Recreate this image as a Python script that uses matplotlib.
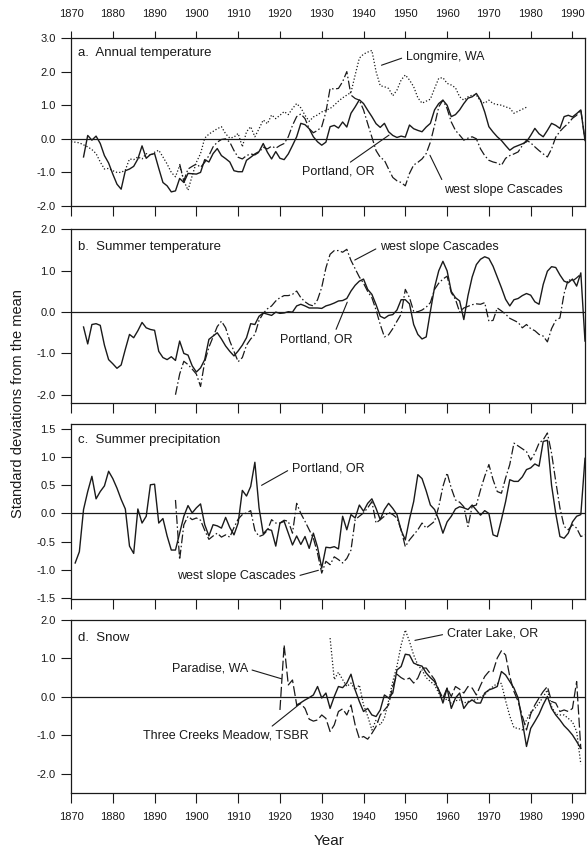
import numpy as np
import matplotlib
matplotlib.use("Agg")
import matplotlib.pyplot as plt

plt.rcParams['font.family'] = ['Liberation Sans', 'DejaVu Sans']
plt.rcParams['axes.unicode_minus'] = False

# ---------------- data (standard deviations from the mean) ----------------
# a. Annual temperature
a_portland_start = 1873
a_portland = [-0.54, 0.10, -0.04, 0.08, -0.14, -0.50, -0.72, -1.05, -1.35, -1.50,
              -0.95, -0.90, -0.82, -0.60, -0.21, -0.58, -0.47, -0.44, -0.88, -1.30,
              -1.40, -1.58, -1.55, -1.18, -1.30, -1.03, -1.04, -1.05, -1.00, -0.62,
              -0.69, -0.44, -0.29, -0.50, -0.59, -0.69, -0.95, -0.98, -0.98, -0.64,
              -0.55, -0.45, -0.38, -0.14, -0.40, -0.60, -0.38, -0.58, -0.62, -0.45,
              -0.20, 0.06, 0.46, 0.42, 0.30, 0.06, -0.09, -0.19, -0.10, 0.36,
              0.40, 0.32, 0.50, 0.35, 0.76, 0.95, 1.16, 1.05, 0.85, 0.66,
              0.45, 0.34, 0.46, 0.21, 0.10, 0.04, 0.08, 0.05, 0.41, 0.30,
              0.25, 0.21, 0.35, 0.46, 0.86, 1.05, 1.15, 1.00, 0.66, 0.72,
              0.86, 1.05, 1.21, 1.25, 1.35, 1.15, 0.80, 0.36, 0.20, 0.06,
              -0.05, -0.20, -0.34, -0.25, -0.20, -0.15, -0.09, 0.10, 0.31, 0.15,
              0.06, 0.25, 0.46, 0.40, 0.31, 0.66, 0.70, 0.65, 0.75, 0.86, -0.05]
a_longmire_start = 1870
a_longmire = [-0.09, -0.10, -0.12, -0.18, -0.24, -0.32, -0.44, -0.69, -0.90, -0.88,
              -0.95, -1.00, -1.00, -0.93, -0.60, -0.62, -0.54, -0.60, -0.44, -0.50,
              -0.40, -0.34, -0.54, -0.75, -1.00, -1.13, -0.80, -1.25, -1.53, -1.10,
              -0.70, -0.44, 0.02, 0.14, 0.22, 0.30, 0.36, 0.15, 0.02, 0.05,
              0.16, -0.24, 0.21, 0.36, 0.06, 0.30, 0.56, 0.45, 0.71, 0.60,
              0.70, 0.81, 0.72, 0.90, 1.05, 0.92, 0.70, 0.52, 0.65, 0.71,
              0.80, 0.85, 0.90, 1.00, 1.12, 1.22, 1.30, 1.38, 1.90, 2.40,
              2.52, 2.58, 2.63, 2.00, 1.58, 1.55, 1.50, 1.28, 1.45, 1.75,
              1.90, 1.75, 1.55, 1.22, 1.06, 1.12, 1.18, 1.50, 1.80, 1.82,
              1.65, 1.60, 1.52, 1.25, 1.15, 1.25, 1.30, 1.30, 1.12, 1.06,
              1.15, 1.05, 1.02, 1.00, 0.95, 0.91, 0.76, 0.82, 0.88, 0.94]
a_cascades_start = 1896
a_cascades = [-0.75, -1.25, -0.90, -0.82, -0.75, -0.85, -0.70, -0.50, -0.24, -0.10,
              -0.02, 0.00, -0.10, -0.35, -0.55, -0.60, -0.50, -0.45, -0.48, -0.40,
              -0.25, -0.30, -0.22, -0.28, -0.20, -0.14, 0.06, 0.40, 0.66, 0.74,
              0.60, 0.30, 0.18, 0.25, 0.36, 0.80, 1.50, 1.48, 1.50, 1.70,
              2.00, 1.30, 1.20, 1.15, 0.86, 0.45, 0.05, -0.35, -0.55, -0.64,
              -0.90, -1.15, -1.25, -1.30, -1.40, -1.03, -0.78, -0.70, -0.60, -0.44,
              -0.10, 0.40, 0.95, 1.15, 0.90, 0.50, 0.25, 0.11, -0.04, 0.02,
              0.06, 0.00, -0.30, -0.50, -0.64, -0.69, -0.72, -0.79, -0.58, -0.50,
              -0.45, -0.39, -0.20, -0.04, -0.12, -0.24, -0.35, -0.45, -0.54, -0.30,
              0.05, 0.22, 0.35, 0.46, 0.61, 0.70, 0.86, -0.04]

# b. Summer temperature
b_portland_start = 1873
b_portland = [-0.36, -0.77, -0.30, -0.28, -0.32, -0.80, -1.15, -1.25, -1.36, -1.28,
              -0.90, -0.54, -0.62, -0.45, -0.25, -0.38, -0.42, -0.44, -0.95, -1.10,
              -1.15, -1.08, -1.17, -0.70, -1.00, -1.04, -1.30, -1.45, -1.35, -1.15,
              -0.66, -0.58, -0.50, -0.65, -0.82, -0.95, -1.06, -0.94, -0.80, -0.62,
              -0.28, -0.30, -0.10, -0.02, -0.05, -0.08, 0.00, -0.03, -0.02, 0.01,
              0.00, 0.15, 0.19, 0.15, 0.10, 0.10, 0.10, 0.09, 0.15, 0.18,
              0.22, 0.27, 0.28, 0.33, 0.51, 0.65, 0.75, 0.80, 0.55, 0.43,
              0.18, -0.10, -0.15, -0.08, -0.06, 0.05, 0.30, 0.30, 0.20, -0.30,
              -0.54, -0.65, -0.60, 0.02, 0.60, 1.00, 1.23, 1.00, 0.50, 0.35,
              0.27, -0.18, 0.40, 0.85, 1.15, 1.28, 1.34, 1.30, 1.11, 0.85,
              0.59, 0.31, 0.15, 0.30, 0.33, 0.40, 0.45, 0.41, 0.25, 0.19,
              0.67, 0.99, 1.10, 1.08, 0.90, 0.75, 0.71, 0.80, 0.63, 0.95, -0.70]
b_cascades_start = 1895
b_cascades = [-2.00, -1.50, -1.19, -1.27, -1.38, -1.50, -1.80, -1.20, -0.85, -0.60,
              -0.35, -0.22, -0.38, -0.70, -0.95, -1.20, -1.10, -0.80, -0.65, -0.54,
              -0.20, -0.03, 0.08, 0.15, 0.27, 0.35, 0.40, 0.40, 0.43, 0.51,
              0.35, 0.25, 0.18, 0.15, 0.30, 0.60, 1.07, 1.40, 1.49, 1.49,
              1.45, 1.52, 1.25, 1.05, 0.85, 0.70, 0.50, 0.35, 0.05, -0.30,
              -0.60, -0.55, -0.40, -0.22, -0.05, 0.55, 0.35, 0.02, 0.01, 0.05,
              0.12, 0.23, 0.55, 0.70, 0.80, 0.87, 0.47, 0.31, 0.00, 0.10,
              0.14, 0.18, 0.20, 0.19, 0.23, -0.22, -0.20, 0.10, 0.03, -0.05,
              -0.15, -0.20, -0.25, -0.38, -0.30, -0.40, -0.45, -0.54, -0.58, -0.72,
              -0.40, -0.20, -0.14, 0.45, 0.79, 0.75, 0.83, 0.92]

# c. Summer precipitation
c_portland_start = 1871
c_portland = [-0.88, -0.68, 0.07, 0.39, 0.66, 0.26, 0.39, 0.49, 0.75, 0.62,
              0.45, 0.25, 0.08, -0.58, -0.71, 0.08, -0.17, -0.05, 0.51, 0.52,
              -0.17, -0.09, -0.40, -0.65, -0.65, -0.35, -0.05, 0.14, 0.01, 0.10,
              0.17, -0.20, -0.40, -0.20, -0.22, -0.26, -0.07, -0.25, -0.38, -0.17,
              0.41, 0.31, 0.48, 0.91, 0.10, -0.36, -0.28, -0.30, -0.58, -0.17,
              -0.14, -0.35, -0.56, -0.40, -0.55, -0.41, -0.62, -0.35, -0.60, -0.97,
              -0.60, -0.61, -0.59, -0.63, -0.05, -0.29, -0.02, -0.08, 0.15, 0.04,
              0.18, 0.26, 0.09, -0.11, 0.07, 0.18, 0.09, -0.02, -0.30, -0.47,
              -0.10, 0.21, 0.69, 0.62, 0.40, 0.15, 0.07, -0.11, -0.35, -0.15,
              -0.05, 0.08, 0.12, 0.10, 0.07, 0.15, 0.06, -0.03, 0.05, 0.00,
              -0.38, -0.41, -0.11, 0.21, 0.60, 0.57, 0.57, 0.65, 0.78, 0.81,
              0.88, 0.84, 1.28, 1.30, 0.50, 0.00, -0.41, -0.44, -0.35, -0.15,
              -0.05, -0.02, 0.98]
c_cascades_start = 1895
c_cascades = [0.24, -0.82, -0.20, -0.05, -0.11, -0.08, -0.12, -0.30, -0.46, -0.40,
              -0.35, -0.42, -0.38, -0.42, -0.25, -0.10, -0.02, 0.01, 0.05, -0.30,
              -0.41, -0.38, -0.30, -0.11, -0.17, -0.17, -0.12, -0.14, -0.35, 0.18,
              0.00, -0.14, -0.29, -0.44, -0.71, -1.06, -0.85, -0.91, -0.77, -0.82,
              -0.88, -0.80, -0.65, -0.11, -0.05, 0.01, 0.10, 0.21, -0.17, -0.11,
              -0.05, 0.02, -0.02, -0.08, -0.29, -0.59, -0.47, -0.38, -0.29, -0.17,
              -0.26, -0.20, -0.14, 0.12, 0.48, 0.72, 0.45, 0.24, 0.20, 0.12,
              -0.23, 0.13, 0.15, 0.42, 0.66, 0.87, 0.60, 0.39, 0.36, 0.63,
              0.87, 1.25, 1.20, 1.15, 1.10, 0.95, 1.07, 1.25, 1.31, 1.43,
              1.07, 0.57, 0.10, -0.23, -0.29, -0.20, -0.26, -0.41, -0.38]

# d. Snow
d_paradise_start = 1920
d_paradise = [-0.34, 1.35, 0.31, 0.44, -0.20, -0.18, -0.30, -0.58, -0.63, -0.60,
              -0.47, -0.56, -0.90, -0.73, -0.38, -0.31, -0.47, -0.21, -0.73, -1.08,
              -1.03, -1.10, -0.95, -0.77, -0.47, -0.34, -0.21, 0.27, 0.59, 0.50,
              0.44, 0.49, 0.36, 0.49, 0.75, 0.75, 0.60, 0.45, 0.18, -0.03,
              0.23, 0.01, 0.27, 0.20, 0.10, 0.27, 0.23, 0.05, 0.30, 0.53,
              0.66, 0.66, 1.01, 1.20, 1.09, 0.53, 0.14, -0.12, -0.50, -0.86,
              -0.45, -0.21, -0.03, 0.14, 0.27, -0.12, -0.16, -0.38, -0.34, -0.38,
              -0.30, 0.40, -1.35]
d_threecreeks_start = 1924
d_threecreeks = [-0.22, -0.15, -0.08, -0.02, 0.05, 0.27, -0.03, 0.10, -0.30, 0.01,
                 0.27, 0.24, 0.36, 0.59, 0.18, -0.12, -0.38, -0.30, -0.47, -0.51,
                 -0.34, 0.05, -0.03, 0.10, 0.70, 0.79, 1.11, 1.09, 0.88, 0.83,
                 0.80, 0.62, 0.50, 0.40, 0.18, -0.16, 0.23, -0.30, -0.03, 0.10,
                 -0.30, -0.15, -0.08, -0.16, -0.16, 0.10, 0.18, 0.22, 0.27, 0.66,
                 0.57, 0.40, 0.23, -0.03, -0.64, -1.29, -0.82, -0.64, -0.45, -0.20,
                 0.01, -0.30, -0.47, -0.60, -0.75, -0.86, -0.99, -1.16, -1.34]
d_craterlake_start = 1932
d_craterlake = [1.53, 0.45, 0.64, 0.45, 0.27, 0.36, 0.18, 0.31, -0.21, -0.50,
                -0.86, -0.60, -0.73, -0.55, -0.10, 0.40, 0.80, 1.35, 1.74, 1.44,
                1.09, 0.83, 0.70, 0.50, 0.40, 0.31, 0.10, -0.12, -0.05, -0.16,
                -0.10, -0.08, -0.16, -0.12, -0.08, -0.08, 0.00, 0.05, 0.18, 0.27,
                0.35, 0.35, -0.10, -0.50, -0.80, -0.82, -0.86, -0.60, -0.40, -0.30,
                -0.16, 0.00, 0.18, -0.25, -0.45, -0.47, -0.47, -0.56, -0.65, -0.90,
                -1.75]

decade_ticks = list(range(1870, 2000, 10))
panel_titles = ["a.  Annual temperature", "b.  Summer temperature",
                "c.  Summer precipitation", "d.  Snow"]
yticks_a = [-2, -1, 0, 1, 2, 3]
yticks_b = [-2, -1, 0, 1, 2]
yticks_c = [-1.5, -1.0, -0.5, 0.0, 0.5, 1.0, 1.5]
yticks_d = [-2, -1, 0, 1, 2]


def yrs(start, vals):
    return np.arange(start, start + len(vals))


# ---------------- styles ----------------
INK = '#1a1a1a'
SOLID = dict(color=INK, lw=1.0, ls='-')
DOT = dict(color=INK, lw=0.9, ls=(0, (1, 1.6)))
DASHDOT = dict(color=INK, lw=0.9, ls=(0, (7, 2, 1.2, 2)))

fig = plt.figure(figsize=(5.87, 8.57), dpi=100)
W = 587.0
H = 857.0
left_px, right_px = 71, 585
boxes = [(38, 206), (229.5, 403), (424, 599), (620, 793)]
ylims = [(-2.0, 3.0), (-2.2, 2.0), (-1.52, 1.59), (-2.5, 2.0)]
yticks = [yticks_a, yticks_b, yticks_c, yticks_d]
title_y = [0.909, 0.90, 0.909, 0.898]

axes = []
for i, (top, bot) in enumerate(boxes):
    ax = fig.add_axes([left_px / W, 1 - bot / H, (right_px - left_px) / W, (bot - top) / H])
    ax.set_xlim(1870, 1993)
    ax.set_ylim(*ylims[i])
    ax.set_xticks(decade_ticks)
    ax.set_yticks(yticks[i])
    ax.set_yticklabels(['%.1f' % v for v in yticks[i]])
    ax.axhline(0, color=INK, lw=0.9, zorder=1)
    for sp in ax.spines.values():
        sp.set_linewidth(0.9)
        sp.set_color(INK)
    ax.tick_params(axis='y', direction='out', length=7, width=0.8, pad=4,
                   labelsize=8, colors=INK)
    ax.tick_params(axis='x', direction='out', length=7, width=0.8, pad=7,
                   labelsize=8, colors=INK, bottom=True, labelbottom=(i == 3))
    ax.text(0.0136, title_y[i], panel_titles[i], transform=ax.transAxes,
            fontsize=9.5, ha='left', va='center', color=INK)
    axes.append(ax)

# top ticks and labels on panel a
axes[0].tick_params(axis='x', top=True, labeltop=True)
axes[0].tick_params(axis='x', which='major', pad=7)
for t in axes[0].xaxis.get_major_ticks():
    t.tick2line.set_markersize(5)

axa, axb, axc, axd = axes

# panel a
axa.plot(yrs(a_longmire_start, a_longmire), a_longmire, **DOT)
axa.plot(yrs(a_cascades_start, a_cascades), a_cascades, **DASHDOT)
axa.plot(yrs(a_portland_start, a_portland), a_portland, **SOLID)

# panel b
axb.plot(yrs(b_cascades_start, b_cascades), b_cascades, **DASHDOT)
axb.plot(yrs(b_portland_start, b_portland), b_portland, **SOLID)

# panel c
axc.plot(yrs(c_cascades_start, c_cascades), c_cascades, **DASHDOT)
axc.plot(yrs(c_portland_start, c_portland), c_portland, **SOLID)

# panel d
axd.plot(yrs(d_craterlake_start, d_craterlake), d_craterlake, **DOT)
axd.plot(yrs(d_paradise_start, d_paradise), d_paradise,
         color=INK, lw=0.9, ls=(0, (8, 2.5)))
axd.plot(yrs(d_threecreeks_start, d_threecreeks), d_threecreeks, **SOLID)


def label(ax, text, txy, pxy, relpos):
    ax.annotate(text, xy=pxy, xytext=txy, fontsize=9, color=INK,
                ha='left', va='center',
                arrowprops=dict(arrowstyle='-', color=INK, lw=0.8,
                                shrinkA=1, shrinkB=0, relpos=relpos))


label(axa, "Longmire, WA", (1950.1, 2.44), (1944.3, 2.19), (0, 0.5))
label(axa, "Portland, OR", (1925.2, -0.98), (1946.1, 0.11), (0.6, 1.0))
label(axa, "west slope Cascades", (1959.2, -1.51), (1955.9, -0.49), (0.0, 1.0))
label(axb, "west slope Cascades", (1943.9, 1.58), (1937.9, 1.26), (0, 0.5))
label(axb, "Portland, OR", (1920.0, -0.66), (1936.1, 0.24), (0.75, 1.0))
label(axc, "Portland, OR", (1922.8, 0.80), (1915.6, 0.50), (0, 0.5))
label(axc, "west slope Cascades", (1895.4, -1.12), (1929.2, -1.01), (1, 0.5))
label(axd, "Paradise, WA", (1894.1, 0.73), (1920.4, 0.47), (1, 0.5))
label(axd, "Three Creeks Meadow, TSBR", (1887.3, -1.01), (1924.8, -0.18), (0.75, 1.0))
label(axd, "Crater Lake, OR", (1959.9, 1.64), (1952.3, 1.47), (0, 0.5))

fig.text(18 / W, 1 - 404 / H, "Standard deviations from the mean", rotation=90,
         ha='center', va='center', fontsize=10.5, color=INK)
fig.text(329 / W, 1 - 841 / H, "Year", ha='center', va='center', fontsize=11,
         color=INK)

fig.savefig("out.png", dpi=100, facecolor='white')
